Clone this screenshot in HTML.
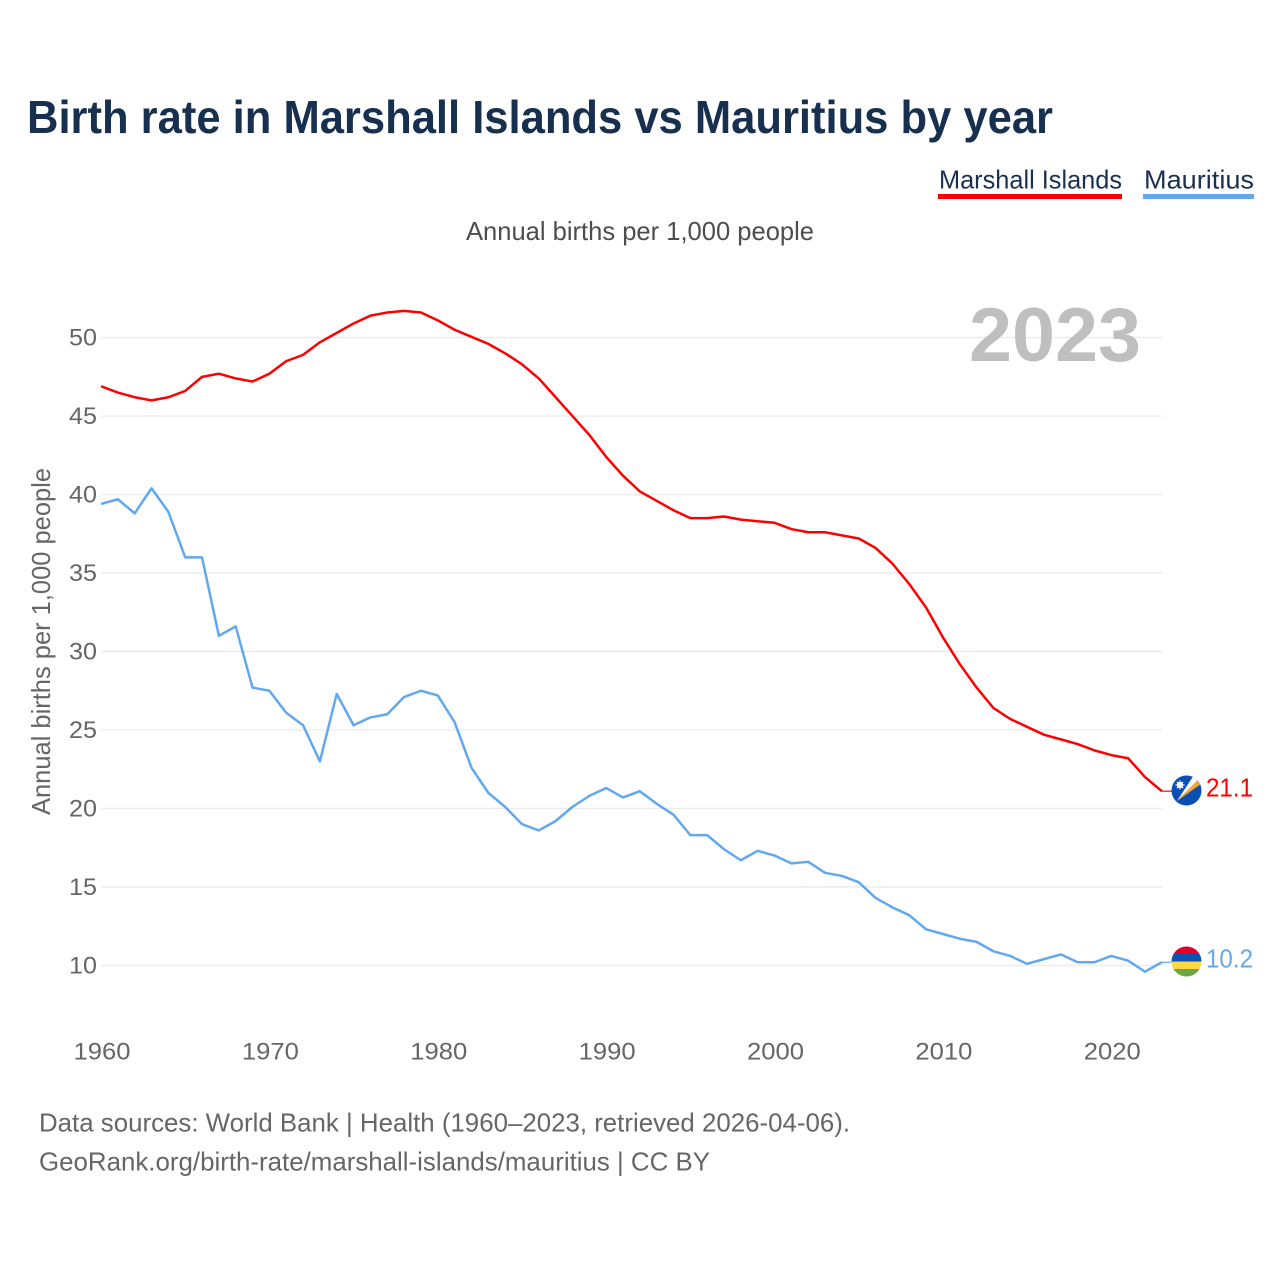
<!DOCTYPE html>
<html lang="en">
<head>
<meta charset="utf-8">
<title>Birth rate in Marshall Islands vs Mauritius by year</title>
<style>
  html, body { margin: 0; padding: 0; background: #fff; }
  svg { display: block; font-family: "Liberation Sans", sans-serif; }
</style>
</head>
<body>
<svg id="chart" xmlns="http://www.w3.org/2000/svg" width="1280" height="1280" viewBox="0 0 1280 1280">
  <rect width="1280" height="1280" fill="#ffffff"/>
  <text x="27" y="133" font-size="46" font-weight="700" fill="#17304f" textLength="1026" lengthAdjust="spacingAndGlyphs">Birth rate in Marshall Islands vs Mauritius by year</text>

  <g>
    <g>
      <text x="939" y="188.5" font-size="26" fill="#1a3050" textLength="183" lengthAdjust="spacingAndGlyphs">Marshall Islands</text>
      <rect x="938" y="194" width="184" height="5" fill="#ff0000"/>
    </g>
    <g>
      <text x="1144" y="188.5" font-size="26" fill="#1a3050" textLength="110" lengthAdjust="spacingAndGlyphs">Mauritius</text>
      <rect x="1143" y="194" width="111" height="5" fill="#62a8ee"/>
    </g>
  </g>

  <text x="466" y="240" font-size="26" fill="#4d4d4d" textLength="348" lengthAdjust="spacingAndGlyphs">Annual births per 1,000 people</text>
  <text transform="translate(50 815) rotate(-90)" font-size="26" fill="#666666" textLength="347" lengthAdjust="spacingAndGlyphs">Annual births per 1,000 people</text>

  <g id="gridlines"></g>
  <g id="y-ticks"></g>
  <g id="x-ticks"></g>

  <text x="969" y="361" font-size="76" font-weight="700" fill="#bfbfbf" textLength="172" lengthAdjust="spacingAndGlyphs">2023</text>

  <g id="series"></g>

  <defs>
    <clipPath id="flag-clip-mh"><circle cx="1186.5" cy="790.5" r="15"/></clipPath>
    <clipPath id="flag-clip-mu"><circle cx="1186.5" cy="961.5" r="15"/></clipPath>
  </defs>

  <g clip-path="url(#flag-clip-mh)">
    <rect x="1171" y="775" width="31" height="31" fill="#0a50b4"/>
    <polygon points="1177,801 1194,775 1199,779" fill="#ffffff"/>
    <polygon points="1177,801 1199,779 1201,784" fill="#f6a531"/>
    <circle cx="1180" cy="785" r="3.2" fill="#ffffff"/>
    <g stroke="#ffffff" stroke-width="1">
      <line x1="1180" y1="780.4" x2="1180" y2="789.6"/>
      <line x1="1175.4" y1="785" x2="1184.6" y2="785"/>
      <line x1="1176.8" y1="781.8" x2="1183.2" y2="788.2"/>
      <line x1="1183.2" y1="781.8" x2="1176.8" y2="788.2"/>
    </g>
  </g>

  <g clip-path="url(#flag-clip-mu)">
    <rect x="1171" y="946" width="31" height="8" fill="#e0002d"/>
    <rect x="1171" y="954" width="31" height="7.5" fill="#0c52b0"/>
    <rect x="1171" y="961.5" width="31" height="7.5" fill="#ffd845"/>
    <rect x="1171" y="969" width="31" height="8" fill="#6da544"/>
  </g>

  <text id="value-mh" x="1206" y="796.5" font-size="26" fill="#ff0000" textLength="47" lengthAdjust="spacingAndGlyphs"></text>
  <text id="value-mu" x="1206" y="967.5" font-size="26" fill="#62a8ee" textLength="47" lengthAdjust="spacingAndGlyphs"></text>

  <g>
    <text x="39" y="1131.5" font-size="26" fill="#666666" textLength="811" lengthAdjust="spacingAndGlyphs">Data sources: World Bank | Health (1960–2023, retrieved 2026-04-06).</text>
    <text x="39" y="1170.5" font-size="26" fill="#666666" textLength="671" lengthAdjust="spacingAndGlyphs">GeoRank.org/birth-rate/marshall-islands/mauritius | CC BY</text>
  </g>
</svg>

<script>
const startYear = 1960;
const yTickValues = [10, 15, 20, 25, 30, 35, 40, 45, 50];
const xTickValues = [1960, 1970, 1980, 1990, 2000, 2010, 2020];
const marshallIslands = [46.9, 46.5, 46.2, 46.0, 46.2, 46.6, 47.5, 47.7, 47.4, 47.2,
  47.7, 48.5, 48.9, 49.7, 50.3, 50.9, 51.4, 51.6, 51.7, 51.6,
  51.1, 50.5, 50.05, 49.6, 49.0, 48.3, 47.4, 46.2, 45.0, 43.8,
  42.4, 41.2, 40.2, 39.6, 39.0, 38.5, 38.5, 38.6, 38.4, 38.3,
  38.2, 37.8, 37.6, 37.6, 37.4, 37.2, 36.6, 35.6, 34.3, 32.8,
  30.9, 29.2, 27.7, 26.4, 25.7, 25.2, 24.7, 24.4, 24.1, 23.7,
  23.4, 23.2, 22.0, 21.1];
const mauritius = [39.4, 39.7, 38.8, 40.4, 38.9, 36.0, 36.0, 31.0, 31.6, 27.7,
  27.5, 26.1, 25.3, 23.0, 27.3, 25.3, 25.8, 26.0, 27.1, 27.5,
  27.2, 25.5, 22.6, 21.0, 20.1, 19.0, 18.6, 19.2, 20.1, 20.8,
  21.3, 20.7, 21.1, 20.3, 19.6, 18.3, 18.3, 17.4, 16.7, 17.3,
  17.0, 16.5, 16.6, 15.9, 15.7, 15.3, 14.3, 13.7, 13.2, 12.3,
  12.0, 11.7, 11.5, 10.9, 10.6, 10.1, 10.4, 10.7, 10.2, 10.2,
  10.6, 10.3, 9.6, 10.2];

const NS = 'http://www.w3.org/2000/svg';
const xScale = function (year) { return 101 + (year - 1960) * (1111.3 - 101) / 60; };
const yScale = function (value) { return 965.4 - (value - 10) * (965.4 - 337.6) / 40; };

const gridGroup = document.getElementById('gridlines');
const yTickGroup = document.getElementById('y-ticks');
const xTickGroup = document.getElementById('x-ticks');
const seriesGroup = document.getElementById('series');

yTickValues.forEach(function (v) {
  const line = document.createElementNS(NS, 'line');
  
  
  line.setAttribute('x1', 101);
  line.setAttribute('x2', 1162);
  line.setAttribute('y1', yScale(v));
  line.setAttribute('y2', yScale(v));
  line.setAttribute('stroke', '#ececec');
  line.setAttribute('stroke-width', 1.4);
  gridGroup.appendChild(line);

  const label = document.createElementNS(NS, 'text');
  
  
  label.setAttribute('x', 69);
  label.setAttribute('y', yScale(v) + 8);
  label.setAttribute('font-size', 24.5);
  label.setAttribute('fill', '#666666');
  label.setAttribute('textLength', 28);
  label.setAttribute('lengthAdjust', 'spacingAndGlyphs');
  label.textContent = String(v);
  yTickGroup.appendChild(label);
});

xTickValues.forEach(function (year) {
  const label = document.createElementNS(NS, 'text');
  
  
  label.setAttribute('x', xScale(year) - 27.5);
  label.setAttribute('y', 1059.5);
  label.setAttribute('font-size', 24.5);
  label.setAttribute('fill', '#666666');
  label.setAttribute('textLength', 57);
  label.setAttribute('lengthAdjust', 'spacingAndGlyphs');
  label.textContent = String(year);
  xTickGroup.appendChild(label);
});

function drawSeries(values, color, seriesName) {
  const points = values.map(function (v, i) {
    return xScale(startYear + i).toFixed(2) + ',' + yScale(v).toFixed(2);
  }).join(' ');
  const path = document.createElementNS(NS, 'polyline');
  
  
  path.setAttribute('points', points);
  path.setAttribute('fill', 'none');
  path.setAttribute('stroke', color);
  path.setAttribute('stroke-width', 2.5);
  path.setAttribute('stroke-linejoin', 'round');
  seriesGroup.appendChild(path);

  const lastIndex = values.length - 1;
  const lastY = yScale(values[lastIndex]);
  const leader = document.createElementNS(NS, 'line');
  
  
  leader.setAttribute('x1', xScale(startYear + lastIndex));
  leader.setAttribute('x2', 1172);
  leader.setAttribute('y1', lastY);
  leader.setAttribute('y2', lastY);
  leader.setAttribute('stroke', color);
  leader.setAttribute('stroke-width', 1.2);
  seriesGroup.appendChild(leader);
}

drawSeries(marshallIslands, '#ff0000', 'line-marshall-islands');
drawSeries(mauritius, '#62a8ee', 'line-mauritius');

document.getElementById('value-mh').textContent = marshallIslands[marshallIslands.length - 1].toFixed(1);
document.getElementById('value-mu').textContent = mauritius[mauritius.length - 1].toFixed(1);
</script>
</body>
</html>
